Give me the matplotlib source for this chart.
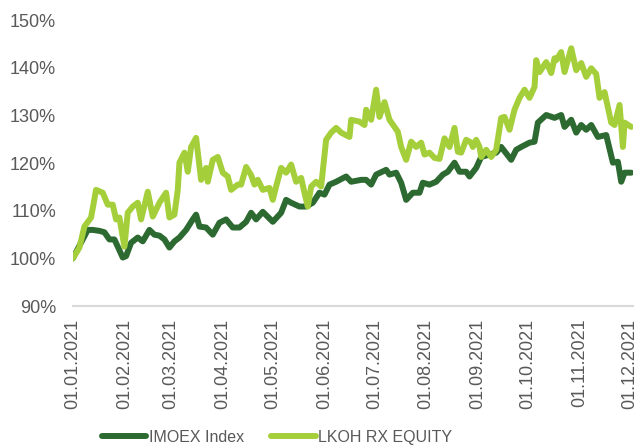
import matplotlib
matplotlib.use("Agg")
import matplotlib.pyplot as plt
import matplotlib.dates as mdates
import pandas as pd

plt.rcParams['font.family'] = ['Liberation Sans', 'DejaVu Sans']

# IMOEX Index, % of 01.01.2021 level
imoex_dates = ["2021-01-01", "2021-01-10", "2021-01-13", "2021-01-17", "2021-01-20", "2021-01-23",
               "2021-01-26", "2021-01-28", "2021-01-31", "2021-02-02", "2021-02-05", "2021-02-09",
               "2021-02-12", "2021-02-16", "2021-02-19", "2021-02-22", "2021-02-25", "2021-02-28",
               "2021-03-03", "2021-03-06", "2021-03-10", "2021-03-14", "2021-03-16", "2021-03-18",
               "2021-03-22", "2021-03-26", "2021-03-30", "2021-04-03", "2021-04-07", "2021-04-11",
               "2021-04-15", "2021-04-18", "2021-04-21", "2021-04-25", "2021-05-01", "2021-05-06",
               "2021-05-09", "2021-05-12", "2021-05-17", "2021-05-21", "2021-05-25", "2021-05-29",
               "2021-06-01", "2021-06-04", "2021-06-08", "2021-06-14", "2021-06-17", "2021-06-23",
               "2021-06-26", "2021-06-29", "2021-07-02", "2021-07-08", "2021-07-10", "2021-07-14",
               "2021-07-17", "2021-07-20", "2021-07-24", "2021-07-28", "2021-07-30", "2021-08-03",
               "2021-08-07", "2021-08-11", "2021-08-14", "2021-08-18", "2021-08-21", "2021-08-25",
               "2021-08-27", "2021-08-31", "2021-09-03", "2021-09-08", "2021-09-12", "2021-09-15",
               "2021-09-21", "2021-09-24", "2021-09-27", "2021-10-02", "2021-10-05", "2021-10-07",
               "2021-10-12", "2021-10-17", "2021-10-21", "2021-10-23", "2021-10-27", "2021-10-30",
               "2021-11-02", "2021-11-05", "2021-11-08", "2021-11-12", "2021-11-17", "2021-11-21",
               "2021-11-24", "2021-11-26", "2021-11-28", "2021-12-02"]
imoex_values = [100.0, 106.0, 106.0, 105.8, 105.5, 104.0,
                104.0, 102.5, 100.2, 100.5, 103.3, 104.4,
                103.6, 106.0, 105.0, 104.8, 104.0, 102.3,
                103.6, 104.4, 106.0, 108.2, 109.2, 106.7,
                106.5, 105.0, 107.5, 108.2, 106.5, 106.5,
                107.7, 109.6, 108.2, 109.8, 107.7, 109.6,
                112.3, 111.7, 110.9, 110.9, 111.7, 113.8,
                113.4, 115.5, 116.1, 117.2, 116.1, 116.5,
                116.5, 115.5, 117.6, 118.6, 117.6, 118.0,
                115.9, 112.3, 113.8, 113.8, 115.9, 115.5,
                116.1, 117.6, 118.2, 120.1, 118.2, 118.2,
                117.2, 119.0, 121.3, 121.8, 122.2, 123.4,
                120.7, 122.8, 123.4, 124.3, 124.5, 128.5,
                130.1, 129.5, 130.1, 127.6, 129.1, 126.4,
                128.0, 127.0, 128.0, 125.5, 125.9, 120.1,
                120.3, 116.1, 118.0, 118.0]

# LKOH RX EQUITY, % of 01.01.2021 level
lkoh_dates = ["2021-01-01", "2021-01-05", "2021-01-08", "2021-01-12", "2021-01-15", "2021-01-19",
              "2021-01-22", "2021-01-25", "2021-01-27", "2021-01-29", "2021-02-01", "2021-02-03",
              "2021-02-06", "2021-02-09", "2021-02-11", "2021-02-15", "2021-02-18", "2021-02-22",
              "2021-02-26", "2021-02-28", "2021-03-03", "2021-03-05", "2021-03-06", "2021-03-09",
              "2021-03-11", "2021-03-13", "2021-03-16", "2021-03-19", "2021-03-22", "2021-03-23",
              "2021-03-26", "2021-03-29", "2021-04-01", "2021-04-04", "2021-04-06", "2021-04-10",
              "2021-04-12", "2021-04-15", "2021-04-18", "2021-04-20", "2021-04-22", "2021-04-25",
              "2021-04-29", "2021-05-01", "2021-05-03", "2021-05-06", "2021-05-09", "2021-05-12",
              "2021-05-15", "2021-05-18", "2021-05-20", "2021-05-22", "2021-05-24", "2021-05-27",
              "2021-05-30", "2021-06-02", "2021-06-05", "2021-06-08", "2021-06-11", "2021-06-16",
              "2021-06-17", "2021-06-22", "2021-06-25", "2021-06-26", "2021-06-29", "2021-07-02",
              "2021-07-04", "2021-07-07", "2021-07-10", "2021-07-13", "2021-07-15", "2021-07-17",
              "2021-07-20", "2021-07-23", "2021-07-26", "2021-07-29", "2021-07-31", "2021-08-03",
              "2021-08-06", "2021-08-09", "2021-08-12", "2021-08-15", "2021-08-18", "2021-08-20",
              "2021-08-22", "2021-08-25", "2021-08-28", "2021-08-29", "2021-08-31", "2021-09-02",
              "2021-09-03", "2021-09-06", "2021-09-09", "2021-09-12", "2021-09-15", "2021-09-17",
              "2021-09-20", "2021-09-23", "2021-09-26", "2021-09-29", "2021-10-02", "2021-10-05",
              "2021-10-06", "2021-10-08", "2021-10-12", "2021-10-15", "2021-10-17", "2021-10-18",
              "2021-10-21", "2021-10-23", "2021-10-27", "2021-10-30", "2021-11-02", "2021-11-05",
              "2021-11-08", "2021-11-11", "2021-11-13", "2021-11-16", "2021-11-20", "2021-11-22",
              "2021-11-25", "2021-11-27", "2021-11-28", "2021-12-02"]
lkoh_values = [100.0, 102.3, 106.7, 108.6, 114.4, 113.8,
               111.3, 111.3, 108.2, 108.6, 102.5, 109.6,
               110.9, 111.7, 108.2, 114.0, 108.8, 111.7,
               113.8, 108.6, 109.2, 114.4, 120.1, 122.2,
               118.2, 123.4, 125.3, 116.5, 119.0, 116.1,
               120.7, 121.3, 118.0, 117.2, 114.4, 115.5,
               115.5, 119.2, 117.5, 115.5, 116.5, 114.4,
               114.8, 112.3, 115.1, 119.0, 118.0, 119.7,
               116.1, 116.9, 113.8, 110.9, 115.1, 116.1,
               115.1, 124.9, 126.4, 127.4, 126.4, 125.5,
               129.1, 128.7, 128.0, 131.2, 129.1, 135.4,
               129.7, 132.8, 129.1, 127.6, 126.6, 123.4,
               120.7, 124.5, 123.4, 124.3, 121.8, 122.2,
               121.1, 120.9, 125.2, 123.4, 127.4, 122.4,
               122.2, 124.9, 124.3, 123.4, 124.9, 123.4,
               121.3, 122.8, 121.3, 122.8, 129.5, 129.7,
               127.0, 131.2, 133.7, 135.4, 133.7, 136.0,
               141.6, 139.1, 141.2, 138.9, 142.0, 141.6,
               143.3, 139.1, 144.1, 139.5, 141.0, 138.1,
               139.9, 138.7, 133.7, 134.9, 128.5, 128.0,
               132.2, 123.4, 128.5, 127.6]

tick_dates = pd.date_range("2021-01-01", "2021-12-01", freq="MS")

fig = plt.figure(figsize=(6.38, 4.47), dpi=100)
ax = fig.add_axes([0.114, 0.315, 0.878, 0.64])

ax.plot(pd.to_datetime(imoex_dates), imoex_values, color="#2d6a31", lw=4.3,
        solid_joinstyle="round", solid_capstyle="round", label="IMOEX Index")
ax.plot(pd.to_datetime(lkoh_dates), lkoh_values, color="#a5cf3a", lw=4.3,
        solid_joinstyle="round", solid_capstyle="round", label="LKOH RX EQUITY")

ax.set_ylim(90, 150)
ax.set_yticks(range(90, 151, 10))
ax.set_yticklabels([f"{v}%" for v in range(90, 151, 10)])
ax.set_xlim(pd.Timestamp("2021-01-01"), pd.Timestamp("2021-12-03"))
ax.set_xticks(tick_dates)
ax.xaxis.set_major_formatter(mdates.DateFormatter("%d.%m.%Y"))
plt.setp(ax.get_xticklabels(), rotation=90)

for s in ["top", "right", "left"]:
    ax.spines[s].set_visible(False)
ax.spines["bottom"].set_color("#d9d9d9")
ax.spines["bottom"].set_linewidth(1.5)
ax.tick_params(axis="both", length=0, labelsize=13, colors="#595959")
ax.tick_params(axis="y", pad=12)
ax.tick_params(axis="x", pad=9)

fig.legend(loc="center", bbox_to_anchor=(0.434, 0.022), ncol=2, frameon=False,
           fontsize=11.5, labelcolor="#595959", handlelength=2.8, handletextpad=0.15,
           columnspacing=1.7)

fig.savefig("out.png", dpi=100)
